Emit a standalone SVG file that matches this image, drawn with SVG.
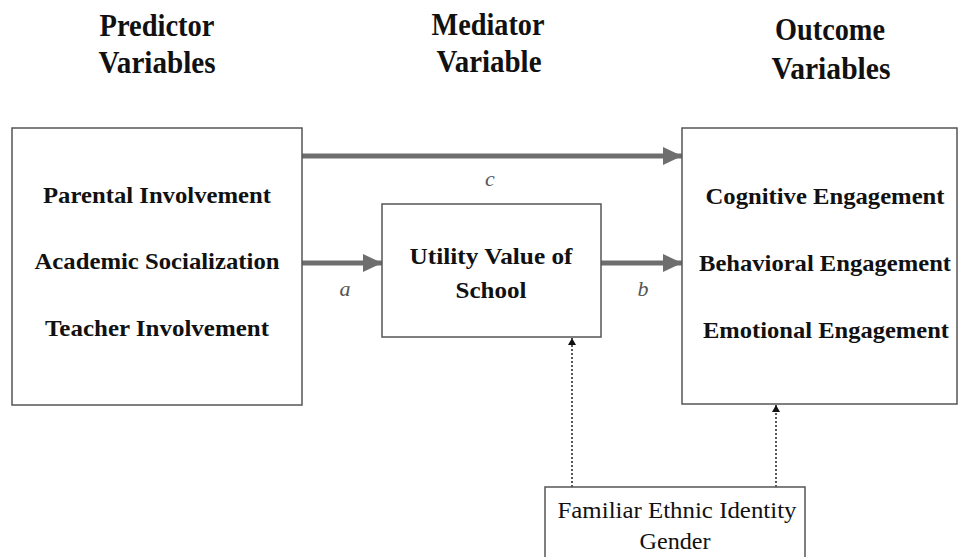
<svg xmlns="http://www.w3.org/2000/svg" width="959" height="557" viewBox="0 0 959 557">
<style>
.box{fill:#fff;stroke:#555;stroke-width:1.5}
.hd{font-family:"Liberation Serif",serif;font-weight:bold;font-size:32px;fill:#111;text-anchor:middle}
.bt{font-family:"Liberation Serif",serif;font-weight:bold;font-size:23px;fill:#111;text-anchor:middle}
.rt{font-family:"Liberation Serif",serif;font-size:23px;fill:#111;text-anchor:middle}
.lb{font-family:"Liberation Serif",serif;font-style:italic;font-size:22px;fill:#555;text-anchor:middle}
.thick{stroke:#6e6e6e;stroke-width:5;fill:none}
.dot{stroke:#222;stroke-width:1.5;stroke-dasharray:2 2;fill:none}
</style>
<defs>
<marker id="ah" markerUnits="userSpaceOnUse" markerWidth="20" markerHeight="18" refX="19" refY="9" orient="auto">
<path d="M0,0 L19,9 L0,18 Z" fill="#6e6e6e"/>
</marker>
<marker id="dh" markerUnits="userSpaceOnUse" markerWidth="8" markerHeight="8" refX="7" refY="4" orient="auto">
<path d="M0,0 L7,4 L0,8 Z" fill="#111"/>
</marker>
</defs>
<g id="headers">
<text class="hd" x="157" y="36" textLength="115" lengthAdjust="spacingAndGlyphs">Predictor</text>
<text class="hd" x="157" y="73" textLength="117" lengthAdjust="spacingAndGlyphs">Variables</text>
<text class="hd" x="488" y="35" textLength="113" lengthAdjust="spacingAndGlyphs">Mediator</text>
<text class="hd" x="489" y="72" textLength="105" lengthAdjust="spacingAndGlyphs">Variable</text>
<text class="hd" x="830" y="40" textLength="110" lengthAdjust="spacingAndGlyphs">Outcome</text>
<text class="hd" x="831" y="79" textLength="119" lengthAdjust="spacingAndGlyphs">Variables</text>
</g>
<g id="connectors">
<line class="thick" x1="301" y1="156" x2="682" y2="156" marker-end="url(#ah)"/>
<line class="thick" x1="301" y1="263" x2="382" y2="263" marker-end="url(#ah)"/>
<line class="thick" x1="601" y1="263" x2="682" y2="263" marker-end="url(#ah)"/>
<line class="dot" x1="572" y1="487" x2="572" y2="338" marker-end="url(#dh)"/>
<line class="dot" x1="776" y1="487" x2="776" y2="405" marker-end="url(#dh)"/>
<text class="lb" x="490" y="186">c</text>
<text class="lb" x="345" y="296">a</text>
<text class="lb" x="643" y="296">b</text>
</g>
<g id="predictors">
<rect class="box" x="12" y="128" width="290" height="277"/>
<text class="bt" x="157" y="203" textLength="228" lengthAdjust="spacingAndGlyphs">Parental Involvement</text>
<text class="bt" x="157" y="269" textLength="245" lengthAdjust="spacingAndGlyphs">Academic Socialization</text>
<text class="bt" x="157" y="336" textLength="224" lengthAdjust="spacingAndGlyphs">Teacher Involvement</text>
</g>
<g id="mediator">
<rect class="box" x="382" y="204" width="219" height="133"/>
<text class="bt" x="491" y="264" textLength="163" lengthAdjust="spacingAndGlyphs">Utility Value of</text>
<text class="bt" x="491" y="298" textLength="71" lengthAdjust="spacingAndGlyphs">School</text>
</g>
<g id="outcomes">
<rect class="box" x="682" y="128" width="275" height="276"/>
<text class="bt" x="825" y="204" textLength="239" lengthAdjust="spacingAndGlyphs">Cognitive Engagement</text>
<text class="bt" x="825" y="271" textLength="252" lengthAdjust="spacingAndGlyphs">Behavioral Engagement</text>
<text class="bt" x="826" y="338" textLength="246" lengthAdjust="spacingAndGlyphs">Emotional Engagement</text>
</g>
<g id="moderators">
<rect class="box" x="545" y="487" width="260" height="80"/>
<text class="rt" x="677" y="518" textLength="239" lengthAdjust="spacingAndGlyphs">Familiar Ethnic Identity</text>
<text class="rt" x="675" y="549" textLength="71" lengthAdjust="spacingAndGlyphs">Gender</text>
</g>
</svg>
